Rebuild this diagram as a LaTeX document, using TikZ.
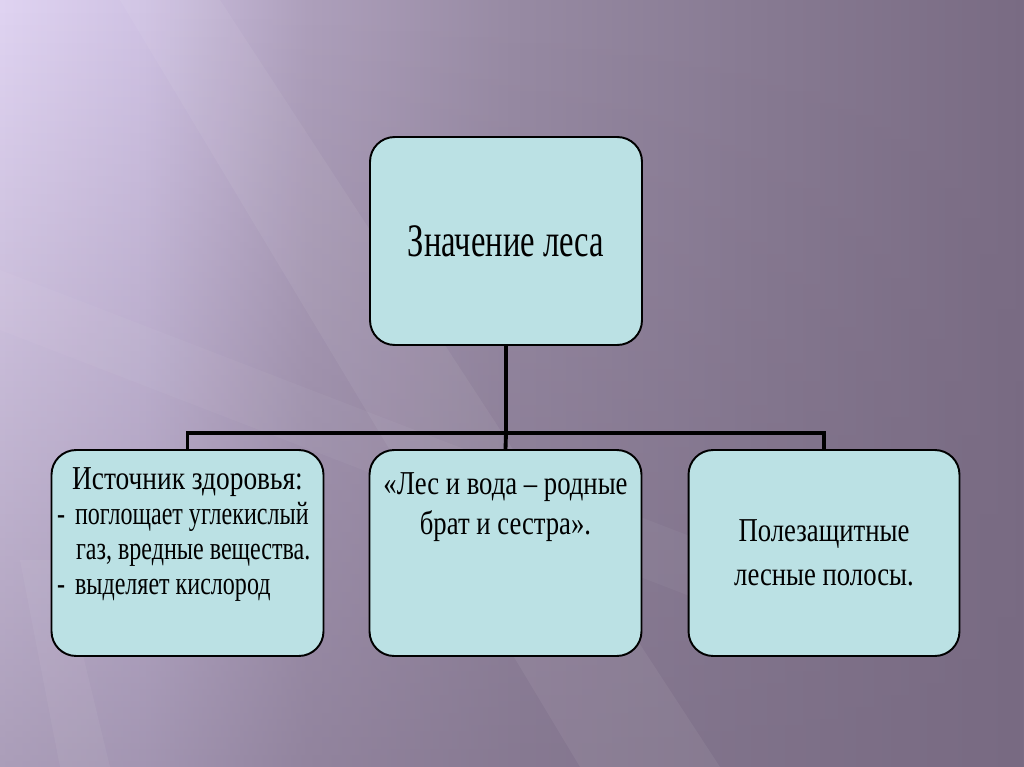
\documentclass[tikz,border=0pt]{standalone}
\usepackage{fontspec}
\setmainfont{Liberation Serif}
\newfontfamily\boxfont[FakeStretch=0.80]{Liberation Serif}
\newfontfamily\leadfont[FakeStretch=0.82]{Liberation Serif}
\newfontfamily\listfont[FakeStretch=0.74]{Liberation Serif}
\newfontfamily\headfont[FakeStretch=0.70]{Liberation Serif}
\usepackage{tikz}
\usetikzlibrary{positioning,fadings}
\usepackage{xcolor}
\definecolor{bgA}{RGB}{224,212,242}
\definecolor{bgB}{RGB}{208,195,228}
\definecolor{bgC}{RGB}{174,160,188}
\definecolor{bgD}{RGB}{152,139,164}
\definecolor{bgE}{RGB}{136,123,147}
\definecolor{bgF}{RGB}{122,108,132}
\definecolor{bgdark}{RGB}{118,104,128}
\definecolor{boxcyan}{RGB}{187,225,228}
\pgfdeclarehorizontalshading{slidebg}{100bp}{color(0bp)=(bgA); color(25bp)=(bgA);
  color(32bp)=(bgB); color(40bp)=(bgC); color(50bp)=(bgD); color(62bp)=(bgE);
  color(75bp)=(bgF); color(100bp)=(bgF)}

\begin{document}
\begin{tikzpicture}[x=0.02cm, y=-0.02cm,
    card/.style={rectangle, rounded corners=14pt, draw=black, line width=1.1pt, fill=boxcyan,
                 minimum width=5.42cm, minimum height=4.12cm, inner sep=2pt, align=center},
    bus/.style={line width=2.2pt, black},
    streak/.style={white, opacity=0.06}
]
% background
\useasboundingbox (0,0) rectangle (1024,767);
\shade[shading=slidebg] (0,0) rectangle (1024,767);
\fill[bgdark, path fading=north, opacity=0.5] (0,0) rectangle (1024,767);
\fill[streak] (120,0) -- (220,0) -- (720,767) -- (580,767) -- cycle;
\fill[streak, opacity=0.04] (0,270) -- (0,330) -- (700,600) -- (700,540) -- cycle;
\fill[streak, opacity=0.05] (20,560) -- (60,560) -- (110,767) -- (60,767) -- cycle;

% boxes
\node[card, minimum width=5.44cm, minimum height=4.16cm, font=\headfont\fontsize{26.5}{30}\selectfont]
    (lesa) at (506,241) {Значение леса};
\node[card] (zdorov) at (187.5,553) {\parbox[c][3.4cm][t]{5.3cm}{%
    \centering\leadfont\fontsize{19}{19.8}\selectfont Источник здоровья:\par
    \raggedright\listfont\fontsize{18.5}{19.8}\selectfont
    \makebox[0.4cm][l]{\hspace{0.04cm}-}поглощает углекислый\\
    \hspace*{0.42cm}газ, вредные вещества.\\
    \makebox[0.4cm][l]{\hspace{0.04cm}-}выделяет кислород}};
\node[card] (voda) at (505.5,553) {\parbox[c][3.2cm][t]{5.3cm}{\boxfont\fontsize{19}{22.7}\selectfont
    \centering «Лес и вода – родные\\ брат и сестра».}};
\node[card, font=\boxfont\fontsize{19}{25}\selectfont] (polosy) at (824,553) {Полезащитные\\ лесные полосы.};

% connectors
\coordinate (fork) at (506,433);
\draw[bus] (lesa.south) -- (fork);
\draw[bus] (zdorov.north) |- (fork) -| (polosy.north);
\draw[bus] (fork) -- (voda.north);
\end{tikzpicture}
\end{document}
